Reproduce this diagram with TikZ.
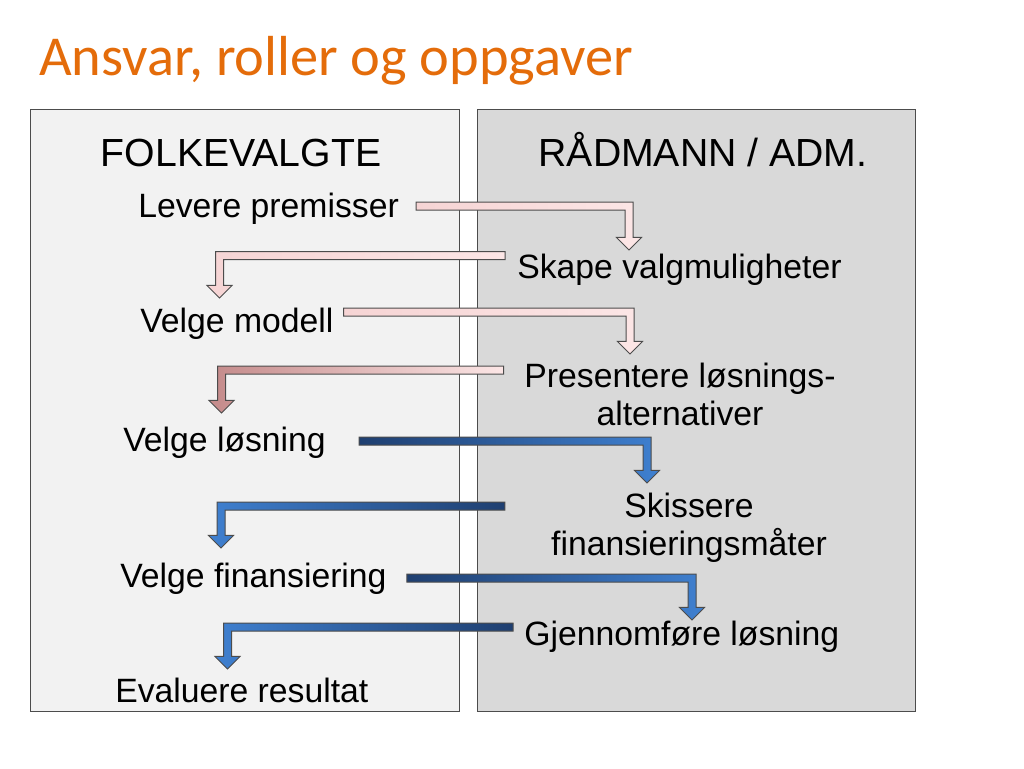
\documentclass[tikz,border=0pt]{standalone}
\usepackage{fontspec}
\setmainfont{Liberation Sans}
\newfontfamily\titlefont{Carlito}
\usetikzlibrary{calc}

\definecolor{titleorange}{HTML}{E46C0A}
\definecolor{leftpanel}{HTML}{F2F2F2}
\definecolor{rightpanel}{HTML}{D9D9D9}
\definecolor{pinkdark}{HTML}{C48A8A}
\definecolor{pinkmid}{HTML}{F6D4D4}
\definecolor{pinklight}{HTML}{FCE6E6}
\definecolor{bluedark}{HTML}{1F3F70}
\definecolor{bluelight}{HTML}{3F80D0}

% bent arrow: shaft from #2 across, then down to the tip #3
\newcommand\flowarrow[3]{%
	\path[#1] let \p1=#2, \p2=#3, \n1={3*sign(\x2-\x1)} in
		(\x1,\y1+3pt) -- (\x2+\n1,\y1+3pt) -- (\x2+\n1,\y2+9.4pt)
		-- (\x2+3.13*\n1,\y2+9.4pt) -- (\x2,\y2) -- (\x2-3.13*\n1,\y2+9.4pt)
		-- (\x2-\n1,\y2+9.4pt) -- (\x2-\n1,\y1-3pt) -- (\x1,\y1-3pt) -- cycle;}

\begin{document}
\begin{tikzpicture}[x=0.75pt, y=-0.75pt,
			it/.style={font=\fontsize{25.3}{28.5}\selectfont, inner sep=0pt},
			hd/.style={font=\fontsize{29.4}{33}\selectfont, inner sep=0pt, anchor=base},
			fa/.style={draw=black!70, line width=0.75pt},
			pinkarrow/.style={fa, left color=pinkmid, right color=pinklight},
			rosearrow/.style={fa, left color=pinkdark, right color=pinklight},
			bluearrow/.style={fa, left color=bluedark, right color=bluelight},
			blueback/.style={fa, left color=bluelight, right color=bluedark}]
	\useasboundingbox[fill=white] (0,0) rectangle (1024,768);
	\node[font=\titlefont\fontsize{42.3}{48}\selectfont, text=titleorange, inner sep=0pt, anchor=base west] (title) at (39,75) {Ansvar, roller og oppgaver};

	% the two columns
	\draw[fill=leftpanel, draw=black!70, line width=0.75pt] (30,109) rectangle (459,711);
	\draw[fill=rightpanel, draw=black!70, line width=0.75pt] (477,109) rectangle (915,711);

	\node[hd] (fv) at (241,166) {FOLKEVALGTE};
	\node[hd] (adm) at (703,166) {RÅDMANN / ADM.};

	\node[it, anchor=base west] (lp) at (138,217) {Levere premisser};
	\node[it, anchor=base west] (sv) at (517,278) {Skape valgmuligheter};
	\node[it, anchor=base west] (vm) at (140,332) {Velge modell};
	\node[it, anchor=north, align=center] (pl) at (680,363) {Presentere løsnings-\\alternativer};
	\node[it, anchor=base west] (vl) at (123,451) {Velge løsning};
	\node[it, anchor=north, align=center] (sk) at (689,493) {Skissere\\finansieringsmåter};
	\node[it, anchor=base west] (vf) at (120,587) {Velge finansiering};
	\node[it, anchor=base west] (gl) at (524,645) {Gjennomføre løsning};
	\node[it, anchor=base west] (ev) at (115,702) {Evaluere resultat};

	% arrows between the columns
	\flowarrow{pinkarrow}{($(lp.base east)+(17,-11)$)}{($(sv.base west)+(112,-28)$)}
	\flowarrow{pinkarrow}{($(sv.base west)+(-12,-22.5)$)}{($(vm.base west)+(79.5,-34)$)}
	\flowarrow{pinkarrow}{($(vm.base east)+(10,-20)$)}{($(pl.north)+(-50,-9)$)}
	\flowarrow{rosearrow}{($(pl.north west)+(-20.5,7)$)}{($(vl.base west)+(98.5,-38)$)}
	\flowarrow{bluearrow}{($(vl.base east)+(33,-10)$)}{($(sk.north)+(-42,-10)$)}
	\flowarrow{blueback}{($(sk.north west)+(-46,13)$)}{($(vf.base west)+(101,-39)$)}
	\flowarrow{bluearrow}{($(vf.base east)+(20,-9)$)}{($(gl.base west)+(168,-25)$)}
	\flowarrow{blueback}{($(gl.base west)+(-11,-18)$)}{($(ev.base west)+(112.5,-33)$)}
\end{tikzpicture}
\end{document}
